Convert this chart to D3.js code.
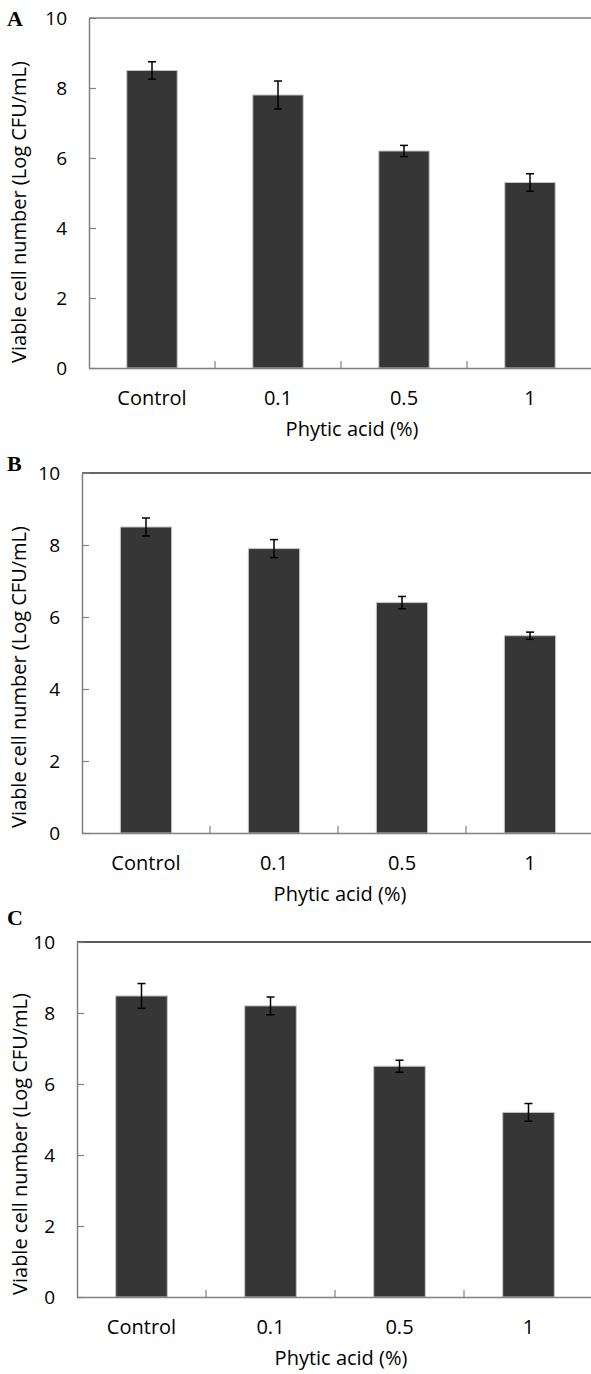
<!DOCTYPE html>
<html>
<head>
<meta charset="utf-8">
<script src="https://cdn.jsdelivr.net/npm/d3@7"></script>
<style>
  body { margin: 0; background: #fff; }
  svg { display: block; }
  .tickLabel { font-family: "Open Sans", sans-serif; font-size: 19px; fill: #000; }
  .catLabel { font-family: "Open Sans", sans-serif; font-size: 20px; fill: #000; }
  .axisTitle { font-family: "Open Sans", sans-serif; font-size: 20px; fill: #000; }
  .panelLabel { font-family: "Liberation Serif", "Times New Roman", serif; font-size: 22px; font-weight: bold; }
</style>
</head>
<body>
<div id="chart"></div>
<script>
//
// viable cell number bar charts, three panels
//

var categories = ['Control', '0.1', '0.5', '1'];
var yTicks = [0, 2, 4, 6, 8, 10];
var panelLabels = ['A', 'B', 'C'];

// bar means and error (+/-) per panel
var meansA = [8.5, 7.8, 6.2, 5.3];
var errA = [0.25, 0.4, 0.16, 0.25];
var meansB = [8.5, 7.9, 6.4, 5.48];
var errB = [0.25, 0.25, 0.17, 0.1];
var meansC = [8.48, 8.2, 6.5, 5.2];
var errC = [0.35, 0.25, 0.17, 0.25];

var yTitle = 'Viable cell number (Log CFU/mL)';
var xTitle = 'Phytic acid (%)';

var width = 591;
var height = 1374;

var svg = d3.select('#chart')
    .append('svg')
    .attr('width', width)
    .attr('height', height);

// layout of each panel (pixels)
var panels = [
    { label: panelLabels[0], means: meansA, errs: errA, left: 89, right: 593, top: 18, bottom: 368,
      labelY: 26, yTitleX: 26, yTitleY: 212, xTitleX: 352, topColor: '#808080' },
    { label: panelLabels[1], means: meansB, errs: errB, left: 82, right: 594, top: 473, bottom: 833,
      labelY: 471, yTitleX: 26, yTitleY: 677, xTitleX: 340, topColor: '#333333' },
    { label: panelLabels[2], means: meansC, errs: errC, left: 77, right: 593, top: 942, bottom: 1297,
      labelY: 925, yTitleX: 27, yTitleY: 1144, xTitleX: 341, topColor: '#222222' }
];

function drawPanel(p) {
    var g = svg.append('g');

    var x = d3.scaleBand()
        .domain(categories)
        .range([p.left, p.right])
        .paddingInner(0.6)
        .paddingOuter(0.3);

    var y = d3.scaleLinear()
        .domain([0, 10])
        .range([p.bottom, p.top]);

    // top frame line
    g.append('line')
        .attr('x1', p.left).attr('x2', p.right)
        .attr('y1', y(10)).attr('y2', y(10))
        .attr('stroke', p.topColor)
        .attr('stroke-width', 1.5);

    // bars
    var data = categories.map(function (c, i) { return { X: c, Y: p.means[i], E: p.errs[i] }; });

    g.append('g')
        .selectAll('rect')
        .data(data)
        .enter()
        .append('rect')
        .attr('x', function (d) { return x(d.X); })
        .attr('y', function (d) { return y(d.Y); })
        .attr('width', x.bandwidth())
        .attr('height', function (d) { return y(0) - y(d.Y); })
        .attr('fill', '#363636')
        .attr('stroke', '#c4c4c4')
        .attr('stroke-width', 1);

    // error bars
    var eb = g.append('g')
        .selectAll('g')
        .data(data)
        .enter()
        .append('g')
        .attr('stroke', '#000')
        .attr('stroke-width', 1.5);
    var cx = function (d) { return x(d.X) + x.bandwidth() / 2; };
    eb.append('line')
        .attr('x1', cx).attr('x2', cx)
        .attr('y1', function (d) { return y(d.Y + d.E); })
        .attr('y2', function (d) { return y(d.Y - d.E); });
    eb.append('line')
        .attr('x1', function (d) { return cx(d) - 4; })
        .attr('x2', function (d) { return cx(d) + 4; })
        .attr('y1', function (d) { return y(d.Y + d.E); })
        .attr('y2', function (d) { return y(d.Y + d.E); });
    eb.append('line')
        .attr('x1', function (d) { return cx(d) - 4; })
        .attr('x2', function (d) { return cx(d) + 4; })
        .attr('y1', function (d) { return y(d.Y - d.E); })
        .attr('y2', function (d) { return y(d.Y - d.E); });

    // y-axis, ticks inside
    var yAxis = d3.axisLeft(y).tickValues(yTicks).tickSize(-7).tickSizeOuter(0).tickPadding(22);
    var ya = g.append('g')
        .attr('transform', 'translate(' + p.left + ',0)')
        .call(yAxis);
    ya.select('.domain').attr('stroke', '#808080').attr('stroke-width', 1.5);
    ya.selectAll('.tick line').attr('stroke', '#808080').attr('stroke-width', 1.2);
    ya.selectAll('text').attr('class', 'tickLabel').attr('font-family', null).attr('font-size', null);

    // x-axis
    var xAxis = d3.axisBottom(x).tickSize(0).tickSizeOuter(0).tickPadding(23);
    var xa = g.append('g')
        .attr('transform', 'translate(0,' + p.bottom + ')')
        .call(xAxis);
    xa.select('.domain').attr('stroke', '#808080').attr('stroke-width', 1.5);
    xa.selectAll('text').attr('class', 'catLabel').attr('font-family', null).attr('font-size', null);

    // category boundary ticks (inside)
    var bounds = categories.slice(1).map(function (c) { return x(c) - x.step() * x.paddingInner() / 2; });
    g.append('g')
        .selectAll('line')
        .data(bounds)
        .enter()
        .append('line')
        .attr('x1', function (d) { return d; })
        .attr('x2', function (d) { return d; })
        .attr('y1', y(0))
        .attr('y2', y(0) - 7)
        .attr('stroke', '#808080')
        .attr('stroke-width', 1.2);

    // axis titles
    g.append('text')
        .attr('class', 'axisTitle')
        .attr('transform', 'translate(' + p.yTitleX + ',' + p.yTitleY + ') rotate(-90)')
        .style('text-anchor', 'middle')
        .text(yTitle);

    g.append('text')
        .attr('class', 'axisTitle')
        .attr('x', p.xTitleX)
        .attr('y', p.bottom + 68)
        .style('text-anchor', 'middle')
        .text(xTitle);

    // panel letter
    g.append('text')
        .attr('class', 'panelLabel')
        .attr('x', 7)
        .attr('y', p.labelY)
        .text(p.label);
}

panels.forEach(drawPanel);
</script>
</body>
</html>
